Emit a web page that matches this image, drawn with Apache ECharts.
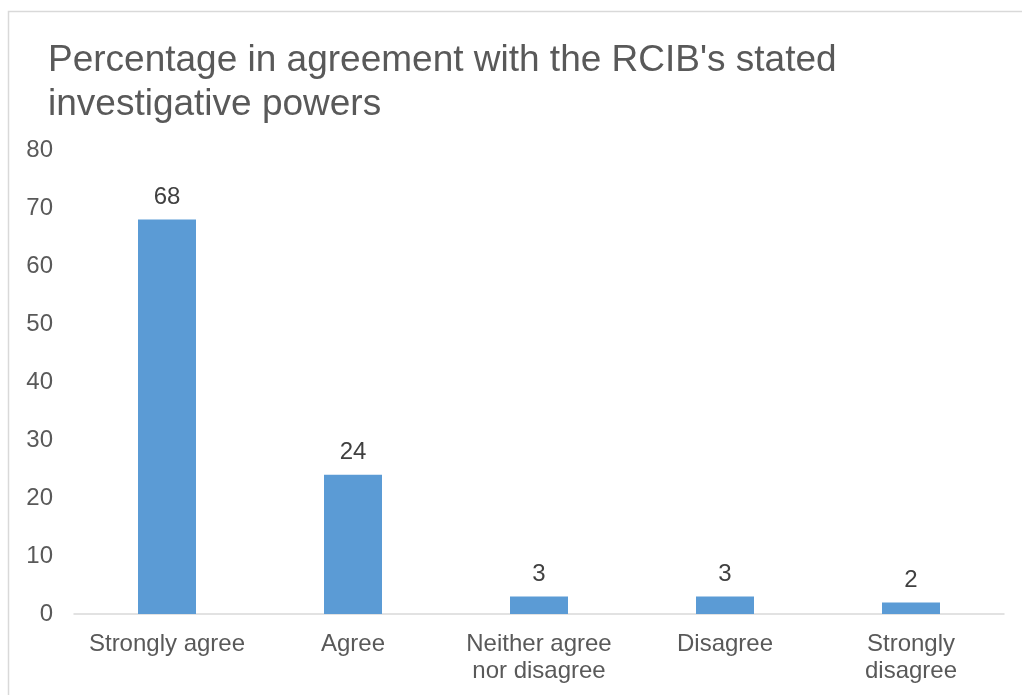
<!DOCTYPE html>
<html>
<head>
<meta charset="utf-8">
<script src="https://cdn.jsdelivr.net/npm/echarts@6/dist/echarts.min.js"></script>
<style>
  html, body { margin: 0; padding: 0; background: #ffffff; }
  #chart { width: 1022px; height: 695px; }
</style>
</head>
<body>
<div id="chart"></div>
<script>
// Survey responses
const titleText = "Percentage in agreement with the RCIB's stated\ninvestigative powers";
const categories = ['Strongly agree', 'Agree', 'Neither agree\nnor disagree', 'Disagree', 'Strongly\ndisagree'];
const percentages = [68, 24, 3, 3, 2];
const yTicks = { min: 0, max: 80, interval: 10 };

const FONT = '"Liberation Sans", Arial, sans-serif';
const chart = echarts.init(document.getElementById('chart'), null, { renderer: 'canvas' });

chart.setOption({
  backgroundColor: '#ffffff',
  animation: false,
  graphic: [{
    type: 'rect',
    shape: { x: 8.5, y: 11.5, width: 1100, height: 800 },
    style: { fill: 'none', stroke: '#d9d9d9', lineWidth: 1.5 },
    silent: true
  }],
  title: {
    text: titleText,
    left: 43,
    top: 34,
    textStyle: {
      fontFamily: FONT,
      fontSize: 37,
      fontWeight: 'normal',
      color: '#595959',
      lineHeight: 44
    }
  },
  grid: { left: 74, right: 18, top: 150, bottom: 81, containLabel: false },
  xAxis: {
    type: 'category',
    data: categories,
    axisLine: { show: true, lineStyle: { color: '#d9d9d9', width: 1.5 } },
    axisTick: { show: false },
    axisLabel: {
      fontFamily: FONT,
      fontSize: 24,
      color: '#595959',
      lineHeight: 27,
      margin: 17,
      interval: 0
    }
  },
  yAxis: {
    type: 'value',
    min: yTicks.min,
    max: yTicks.max,
    interval: yTicks.interval,
    splitLine: { show: false },
    axisLine: { show: false },
    axisTick: { show: false },
    axisLabel: {
      fontFamily: FONT,
      fontSize: 24,
      color: '#595959',
      margin: 21
    }
  },
  series: [{
    type: 'bar',
    data: percentages,
    barWidth: 58,
    itemStyle: { color: '#5b9bd5' },
    label: {
      show: true,
      position: 'top',
      distance: 10,
      fontFamily: FONT,
      fontSize: 24,
      color: '#404040'
    }
  }]
});
</script>
</body>
</html>
